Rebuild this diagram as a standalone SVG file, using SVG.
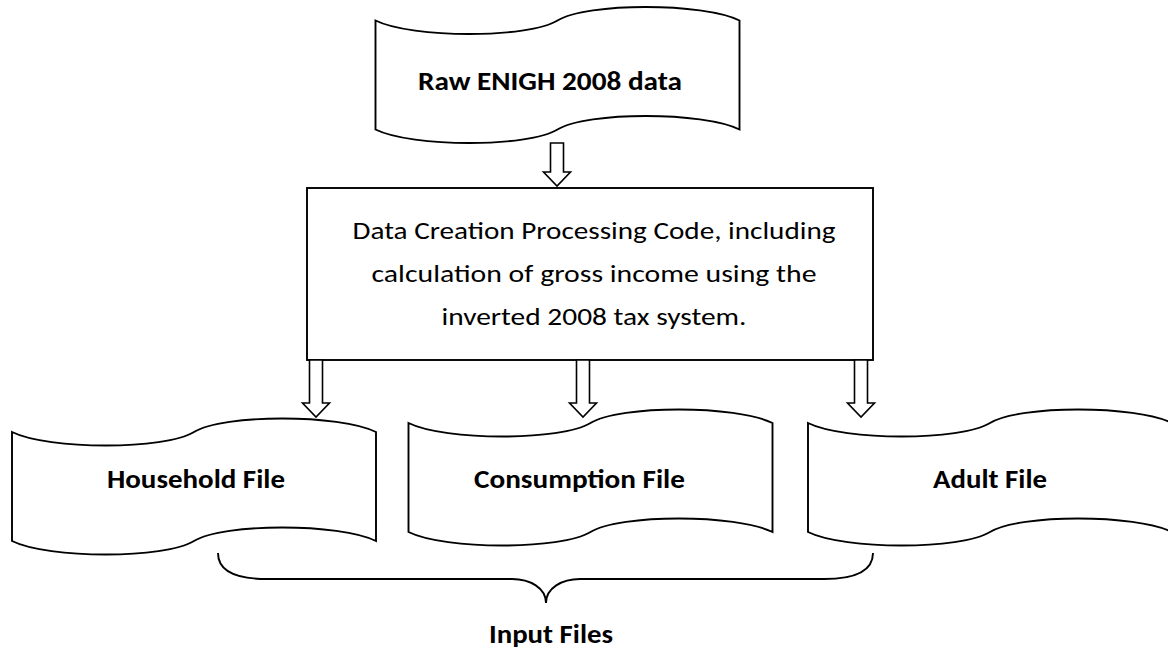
<svg xmlns="http://www.w3.org/2000/svg" xmlns:xlink="http://www.w3.org/1999/xlink" width="1168" height="653" viewBox="0 0 1168 653">
  <style>
    .shape { fill: #ffffff; stroke: #000000; stroke-width: 1.9; stroke-linejoin: miter; }
    .arrow { fill: #ffffff; stroke: #000000; stroke-width: 1.6; stroke-linejoin: miter; }
    .brace { fill: none; stroke: #000000; stroke-width: 1.9; }
    .label { font-family: Carlito, Lato, "Liberation Sans", sans-serif; fill: #000000; }
    .bold { font-size: 25.5px; font-weight: bold; }
    .body { font-size: 25px; font-weight: normal; }
  </style>
  <defs>
    <!-- punched-tape outline, 364 wide, wavy top and bottom edges -->
    <path id="tape" d="M0,13.5 C36.4,31.5 152.9,31.5 182,13.5 C211.1,-4.5 327.6,-4.5 364,13.5 L364,122.5 C327.6,104.5 211.1,104.5 182,122.5 C152.9,140.5 36.4,140.5 0,122.5 Z"/>
  </defs>

  <rect width="1168" height="653" fill="#ffffff"/>

  <g id="raw-data">
    <use xlink:href="#tape" href="#tape" class="shape" transform="translate(375.5,7)"/>
    <text class="label bold" x="418" y="90" textLength="264" lengthAdjust="spacingAndGlyphs">Raw ENIGH 2008 data</text>
  </g>

  <g id="processing">
    <rect class="shape" x="307" y="188" width="566" height="172"/>
    <text class="label body" x="594" y="239" text-anchor="middle" textLength="483" lengthAdjust="spacingAndGlyphs">Data Creation Processing Code, including</text>
    <text class="label body" x="594" y="282" text-anchor="middle" textLength="445" lengthAdjust="spacingAndGlyphs">calculation of gross income using the</text>
    <text class="label body" x="594" y="325" text-anchor="middle" textLength="305" lengthAdjust="spacingAndGlyphs">inverted 2008 tax system.</text>
  </g>

  <g id="household-file">
    <use xlink:href="#tape" href="#tape" class="shape" transform="translate(12,418.5)"/>
    <text class="label bold" x="107" y="488" textLength="178" lengthAdjust="spacingAndGlyphs">Household File</text>
  </g>

  <g id="consumption-file">
    <use xlink:href="#tape" href="#tape" class="shape" transform="translate(408.5,409.5)"/>
    <text class="label bold" x="474" y="488" textLength="211" lengthAdjust="spacingAndGlyphs">Consumption File</text>
  </g>

  <g id="adult-file">
    <use xlink:href="#tape" href="#tape" class="shape" transform="translate(808,409.5)"/>
    <text class="label bold" x="933" y="488" textLength="114" lengthAdjust="spacingAndGlyphs">Adult File</text>
  </g>

  <g id="input-files">
    <path class="brace" d="M218,553 C218,570 235,579 267,579 L512,579 C530,579 546,588 546,603 C546,588 562,579 580,579 L824,579 C856,579 873,570 873,553"/>
    <text class="label bold" x="551" y="643" text-anchor="middle" textLength="124" lengthAdjust="spacingAndGlyphs">Input Files</text>
  </g>

  <g id="connectors">
    <polygon class="arrow" points="550.5,143 563.5,143 563.5,172 570.5,172 557,186 543.5,172 550.5,172"/>
    <polygon class="arrow" points="309.5,360 322.5,360 322.5,403 329.5,403 316,417 302.5,403 309.5,403"/>
    <polygon class="arrow" points="576.5,360 589.5,360 589.5,403 596.5,403 583,417 569.5,403 576.5,403"/>
    <polygon class="arrow" points="854.5,360 867.5,360 867.5,403 874.5,403 861,417 847.5,403 854.5,403"/>
  </g>
</svg>
